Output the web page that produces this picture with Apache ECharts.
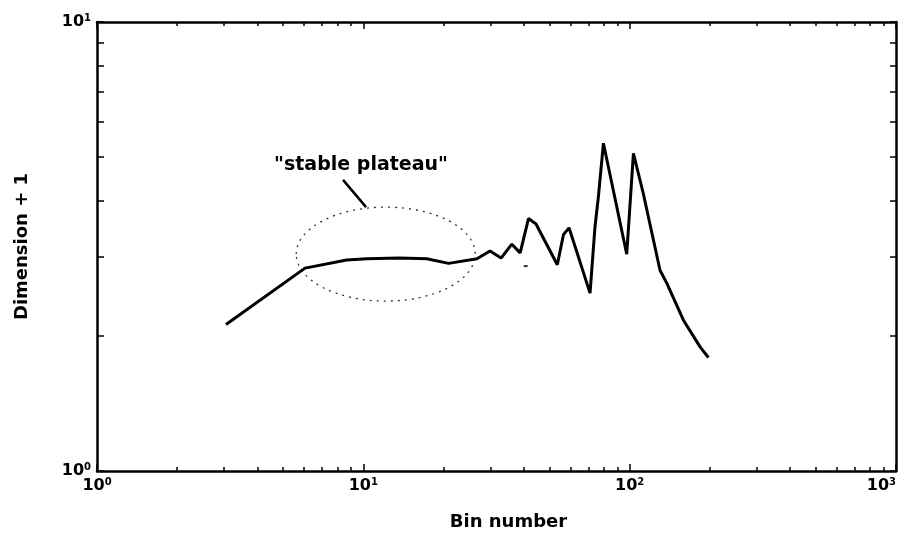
<!DOCTYPE html>
<html>
<head>
<meta charset="utf-8">
<script src="https://cdn.jsdelivr.net/npm/echarts@6/dist/echarts.min.js"></script>
<style>html,body{margin:0;padding:0;background:#fff;overflow:hidden;}#c{width:906px;height:536px;}</style>
</head>
<body>
<div id="c"></div>
<script>
// ---- data ----
var binNumber = [3.05, 6.04, 8.66, 10.3, 13.7, 17.3, 20.9, 26.7, 29.9, 32.9, 36.1, 38.8, 41.7, 44.5, 53.5, 56.4, 59.2, 71.0, 74.1, 76.3, 79.7, 97.5, 103.3, 112.5, 130, 137.8, 159, 183.8, 197.5];
var dimensionPlus1 = [2.12, 2.83, 2.95, 2.97, 2.98, 2.97, 2.90, 2.97, 3.09, 2.98, 3.20, 3.06, 3.65, 3.55, 2.88, 3.36, 3.48, 2.49, 3.50, 4.08, 5.37, 3.04, 5.10, 4.15, 2.80, 2.62, 2.17, 1.89, 1.79];
var strayDot = [[40.7, 2.86]];
var xMajorTicks = [1, 10, 100, 1000];
var xMinorTicks = [2,3,4,5,6,7,8,9,20,30,40,50,60,70,80,90,200,300,400,500,600,700,800,900];
var yMajorTicks = [1, 10];
var yMinorTicks = [2,3,4,5,6,7,8,9];
var xTickLabels = ['10|0', '10|1', '10|2', '10|3'];
var yTickLabels = ['10|0', '10|1'];
var plateauX = [5.6, 26.3];   // ellipse horizontal extent (data)
var plateauY = [2.39, 3.87];  // ellipse vertical extent (data)
var noteAt = [9.8, 4.80];
var pointerFrom = [8.39, 4.45];
var pointerTo = [10.24, 3.87];
var noteText = '"stable plateau"';

var FONT = 'DejaVu Sans';
var rich = {
  b: {fontFamily: FONT, fontSize: 16, fontWeight: 'bold', color: '#000'},
  s: {fontFamily: FONT, fontSize: 10, fontWeight: 'bold', color: '#000', verticalAlign: 'top', padding: [0,0,8,0]}
};
function fmt(labels, majors) {
  return function (v) {
    for (var i = 0; i < majors.length; i++) {
      if (Math.abs(v - majors[i]) < 1e-6 * majors[i]) {
        var p = labels[i].split('|');
        return '{b|' + p[0] + '}{s|' + p[1] + '}';
      }
    }
    return '';
  };
}
function logAxis(extra) {
  var base = {type: 'log', logBase: 10, splitLine: {show: false}, minorTick: {show: false}, minorSplitLine: {show: false}};
  for (var k in extra) base[k] = extra[k];
  return base;
}
var axLine = {show: true, lineStyle: {color: '#000', width: 2.5}};
var noLine = {show: false};

var pairs = binNumber.map(function (x, i) { return [x, dimensionPlus1[i]]; });

var chart = echarts.init(document.getElementById('c'));
chart.setOption({
  animation: false,
  backgroundColor: '#fff',
  grid: {left: 97, right: 10, top: 22, bottom: 65, containLabel: false, outerBoundsMode: 'none'},
  xAxis: [
    logAxis({position: 'bottom', min: 1, max: 1000, axisLine: axLine,
      name: 'Bin number', nameLocation: 'middle', nameGap: 42,
      nameTextStyle: {fontFamily: FONT, fontSize: 18, fontWeight: 'bold', color: '#000', padding: [0, 0, 0, 24]},
      axisTick: {show: true, inside: true, length: 7, customValues: xMajorTicks, lineStyle: {color: '#000', width: 1.5}},
      axisLabel: {show: true, customValues: xMajorTicks, margin: 6, alignMaxLabel: 'right', formatter: fmt(xTickLabels, xMajorTicks), rich: rich}}),
    logAxis({position: 'bottom', min: 1, max: 1000, axisLine: noLine,
      axisTick: {show: true, inside: true, length: 4, customValues: xMinorTicks, lineStyle: {color: '#000', width: 1.5}},
      axisLabel: {show: false}}),
    logAxis({position: 'top', min: 1, max: 1000, axisLine: axLine,
      axisTick: {show: true, inside: true, length: 7, customValues: xMajorTicks, lineStyle: {color: '#000', width: 1.5}},
      axisLabel: {show: false}}),
    logAxis({position: 'top', min: 1, max: 1000, axisLine: noLine,
      axisTick: {show: true, inside: true, length: 4, customValues: xMinorTicks, lineStyle: {color: '#000', width: 1.5}},
      axisLabel: {show: false}})
  ],
  yAxis: [
    logAxis({position: 'left', min: 1, max: 10, axisLine: axLine,
      name: 'Dimension + 1', nameLocation: 'middle', nameGap: 66,
      nameTextStyle: {fontFamily: FONT, fontSize: 18, fontWeight: 'bold', color: '#000'},
      axisTick: {show: true, inside: true, length: 7, customValues: yMajorTicks, lineStyle: {color: '#000', width: 1.5}},
      axisLabel: {show: true, customValues: yMajorTicks, margin: 6, formatter: fmt(yTickLabels, yMajorTicks), rich: rich}}),
    logAxis({position: 'left', min: 1, max: 10, axisLine: noLine,
      axisTick: {show: true, inside: true, length: 7, customValues: yMinorTicks, lineStyle: {color: '#000', width: 1.5}},
      axisLabel: {show: false}}),
    logAxis({position: 'right', min: 1, max: 10, axisLine: axLine,
      axisTick: {show: true, inside: true, length: 6, customValues: yMajorTicks.concat(yMinorTicks), lineStyle: {color: '#000', width: 1.5}},
      axisLabel: {show: false}})
  ],
  series: [
    {type: 'line', xAxisIndex: 0, yAxisIndex: 0, data: pairs, showSymbol: false, symbol: 'none',
      lineStyle: {color: '#000', width: 3}, z: 5},
    {type: 'scatter', xAxisIndex: 0, yAxisIndex: 0, data: strayDot, symbol: 'rect', symbolSize: [4, 2],
      itemStyle: {color: '#000'}, silent: true}
  ]
});

function px(p) { return chart.convertToPixel({xAxisIndex: 0, yAxisIndex: 0}, p); }
var eL = px([plateauX[0], plateauY[0]]);
var eR = px([plateauX[1], plateauY[1]]);
var n = px(noteAt), pf = px(pointerFrom), pt = px(pointerTo);
chart.setOption({
  graphic: [
    {type: 'ellipse', shape: {cx: (eL[0] + eR[0]) / 2, cy: (eL[1] + eR[1]) / 2, rx: Math.abs(eR[0] - eL[0]) / 2, ry: Math.abs(eR[1] - eL[1]) / 2},
      style: {fill: 'none', stroke: '#333', lineWidth: 1.3, lineDash: [2, 5]}, z: 3},
    {type: 'line', shape: {x1: pf[0], y1: pf[1], x2: pt[0], y2: pt[1]},
      style: {stroke: '#000', lineWidth: 2.5}, z: 4},
    {type: 'text', x: n[0], y: n[1],
      style: {text: noteText, fill: '#000', font: 'bold 19px "' + FONT + '"', align: 'center', verticalAlign: 'middle'}, z: 4}
  ]
});
</script>
</body>
</html>
